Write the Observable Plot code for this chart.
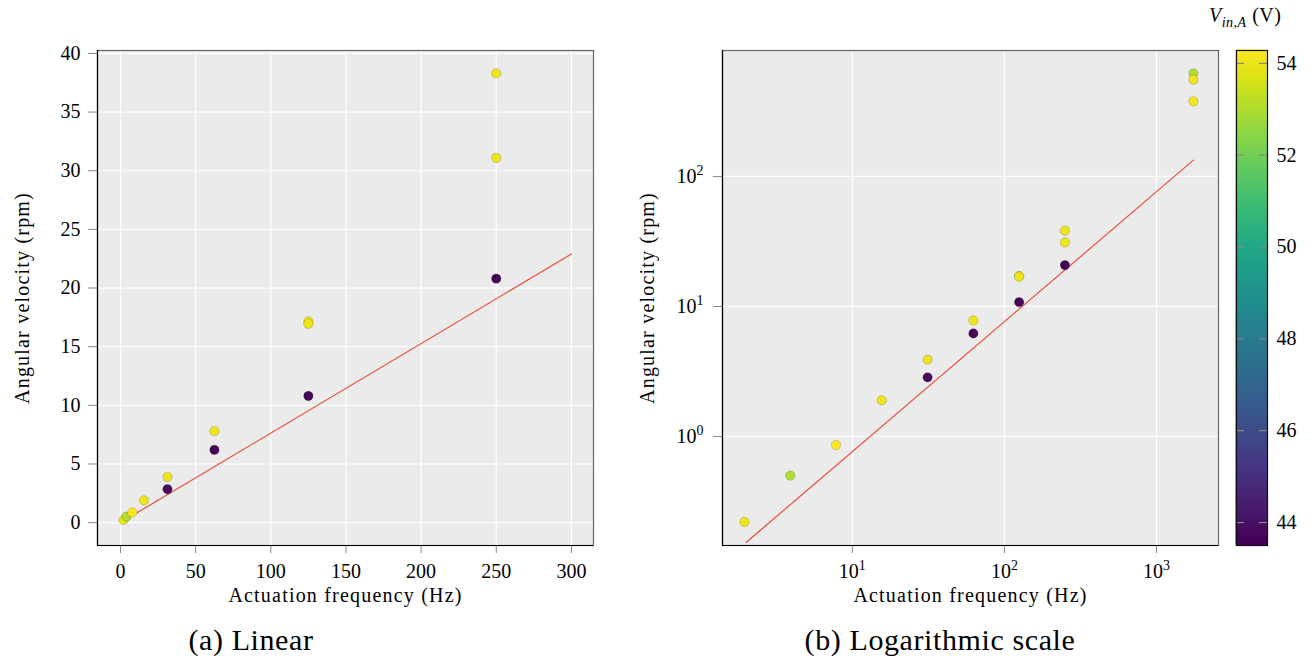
<!DOCTYPE html>
<html><head><meta charset="utf-8">
<script src="https://cdn.jsdelivr.net/npm/d3@7"></script>
<script src="https://cdn.jsdelivr.net/npm/@observablehq/plot@0.6"></script>
<style>
body{margin:0;background:#fff;}
#wrap{position:relative;width:1314px;height:666px;font-family:"Liberation Serif",serif;color:#000;overflow:hidden;}
#wrap svg{position:absolute;top:0;overflow:visible;font-family:"Liberation Serif",serif !important;font-size:20px !important;background:transparent !important;}
#wrap svg text{font-family:"Liberation Serif",serif !important;}
#wrap svg g[aria-label$="axis label"] text{letter-spacing:1.2px;}
.cap{font-size:30px;letter-spacing:0.6px;position:absolute;top:623px;white-space:nowrap;transform:translateX(-50%);}
.cbt{position:absolute;left:1209px;top:4px;font-size:20px;white-space:nowrap;letter-spacing:0.5px;}
</style></head><body><div id="wrap"></div>
<script>
// Measured points: actuation frequency (Hz), angular velocity (rpm), input voltage V_in,A (V)
const frequency = [1.953, 3.906, 7.8125, 15.625, 31.25, 31.25, 62.5, 62.5, 125, 125, 125, 250, 250, 250, 1750, 1750, 1750];
const velocity  = [0.22, 0.50, 0.86, 1.9, 3.9, 2.85, 7.8, 6.2, 17.15, 16.95, 10.8, 38.3, 31.1, 20.8, 620, 555, 378];
const voltage   = [54.0, 53.0, 54.3, 54.0, 54.0, 43.8, 54.0, 43.6, 54.0, 54.0, 43.6, 54.0, 54.0, 43.5, 53.0, 54.0, 54.1];
// Fitted line endpoints
const fitLinFreq = [2, 300];
const fitLinVel  = [0.153, 22.9];
const fitLogFreq = [2, 1750];
const fitLogVel  = [0.153, 133.5];
// Tick values
const linXTicks = [0, 50, 100, 150, 200, 250, 300];
const linYTicks = [0, 5, 10, 15, 20, 25, 30, 35, 40];
const logXTicks = [10, 100, 1000];
const logYTicks = [1, 10, 100];
const cbTicks   = [44, 46, 48, 50, 52, 54];
// Axis domains
const linXDomain = [-15.3, 314.7];
const linYDomain = [-1.95, 40.25];
const logXDomain = [1.40, 2558];
const logYDomain = [0.145, 931];
const vDomain    = [43.5, 54.28];

const points = frequency.map((f, i) => ({f, v: velocity[i], u: voltage[i]}));
const fitLin = fitLinFreq.map((f, i) => ({f, v: fitLinVel[i]}));
const fitLog = fitLogFreq.map((f, i) => ({f, v: fitLogVel[i]}));

const style = "font-family: 'Liberation Serif', serif; font-size: 20px; background: transparent; color: #000;";
const colorScale = {type: "linear", scheme: "viridis", domain: vDomain};
const bg = "#ebebeb";
const lineColor = "#e8503a";

function supFormat(svg, which) {
  svg.querySelectorAll(`g[aria-label="${which}-axis tick label"] text`).forEach(t => {
    const s = t.textContent;
    if (!s.includes("^")) return;
    const [b, e] = s.split("^");
    t.textContent = "";
    const ns = "http://www.w3.org/2000/svg";
    const t1 = document.createElementNS(ns, "tspan"); t1.textContent = b;
    const t2 = document.createElementNS(ns, "tspan"); t2.textContent = e;
    t2.setAttribute("dy", "-0.55em"); t2.setAttribute("font-size", "14px");
    t.appendChild(t1); t.appendChild(t2);
  });
}

const dotOpts = {x: "f", y: "v", fill: "u", r: 4.7, stroke: "#000", strokeOpacity: 0.16, strokeWidth: 1};

function panel({width, marginLeft, marginRight, xDomain, yDomain, type, xTicks, yTicks, fmt, data, fit, yLabelOffset, yPad}) {
  return Plot.plot({
    width, height: 620, marginLeft, marginRight, marginTop: 50, marginBottom: 75,
    style,
    x: {type, domain: xDomain},
    y: {type, domain: yDomain},
    color: colorScale,
    marks: [
      Plot.frame({fill: bg}),
      Plot.gridX(xTicks, {stroke: "#fff", strokeOpacity: 1, strokeWidth: 1.2}),
      Plot.gridY(yTicks, {stroke: "#fff", strokeOpacity: 1, strokeWidth: 1.2}),
      Plot.axisX({ticks: xTicks, tickFormat: fmt, tickSize: 8, tickPadding: 10, stroke: "#888", label: "Actuation frequency (Hz)", labelAnchor: "center", labelArrow: "none", labelOffset: 56}),
      Plot.axisY({ticks: yTicks, tickFormat: fmt, tickSize: 9, tickPadding: yPad, stroke: "#888", label: "Angular velocity (rpm)", labelAnchor: "center", labelArrow: "none", labelOffset: yLabelOffset}),
      Plot.line(fit, {x: "f", y: "v", stroke: lineColor, strokeWidth: 1.2}),
      Plot.dot(data, dotOpts),
      Plot.frame({stroke: "#666", strokeWidth: 1.2}),
      Plot.ruleX([xDomain[0]], {stroke: "#000", strokeWidth: 1.2}),
      Plot.ruleY([yDomain[0]], {stroke: "#000", strokeWidth: 1.2})
    ]
  });
}

const plotA = panel({width: 620, marginLeft: 97, marginRight: 27, xDomain: linXDomain, yDomain: linYDomain, type: "linear",
  xTicks: linXTicks, yTicks: linYTicks, fmt: undefined, data: points.filter(d => d.f <= 300), fit: fitLin, yLabelOffset: 83, yPad: 8});
plotA.style.left = "0px";

const logFmt = d => "10^" + Math.round(Math.log10(d));
const plotB = panel({width: 694, marginLeft: 102, marginRight: 96, xDomain: logXDomain, yDomain: logYDomain, type: "log",
  xTicks: logXTicks, yTicks: logYTicks, fmt: logFmt, data: points, fit: fitLog, yLabelOffset: 83, yPad: 10});
plotB.style.left = "620px";
supFormat(plotB, "x");
supFormat(plotB, "y");

const stops = d3.range(vDomain[0], vDomain[1], 0.04);
const cbar = Plot.plot({
  width: 89, height: 560, marginLeft: 11, marginRight: 47, marginTop: 50, marginBottom: 15,
  style,
  y: {domain: vDomain},
  color: colorScale,
  marks: [
    Plot.rect(stops, {y1: d => d, y2: d => Math.min(d + 0.06, vDomain[1]), fill: d => d, stroke: d => d, strokeWidth: 0.6}),
    Plot.tickY(cbTicks, {y: d => d, stroke: "#888", strokeWidth: 1.2, insetRight: 23}),
    Plot.tickY(cbTicks, {y: d => d, stroke: "#888", strokeWidth: 1.2, insetLeft: 23}),
    Plot.axisY({anchor: "right", ticks: cbTicks, tickSize: 0, tickPadding: 9, label: null}),
    Plot.frame({stroke: "#111", strokeWidth: 1.2})
  ]
});
cbar.style.left = "1225px";

const wrap = document.getElementById("wrap");
wrap.appendChild(plotA);
wrap.appendChild(plotB);
wrap.appendChild(cbar);
const t = document.createElement("div");
t.className = "cbt";
t.innerHTML = '<i>V</i><sub style="font-size:14px;font-style:italic">in,A</sub> (V)';
wrap.appendChild(t);
const ca = document.createElement("div"); ca.className = "cap"; ca.style.left = "251px"; ca.textContent = "(a) Linear"; wrap.appendChild(ca);
const cb = document.createElement("div"); cb.className = "cap"; cb.style.left = "940px"; cb.textContent = "(b) Logarithmic scale"; wrap.appendChild(cb);
</script>
</body></html>
